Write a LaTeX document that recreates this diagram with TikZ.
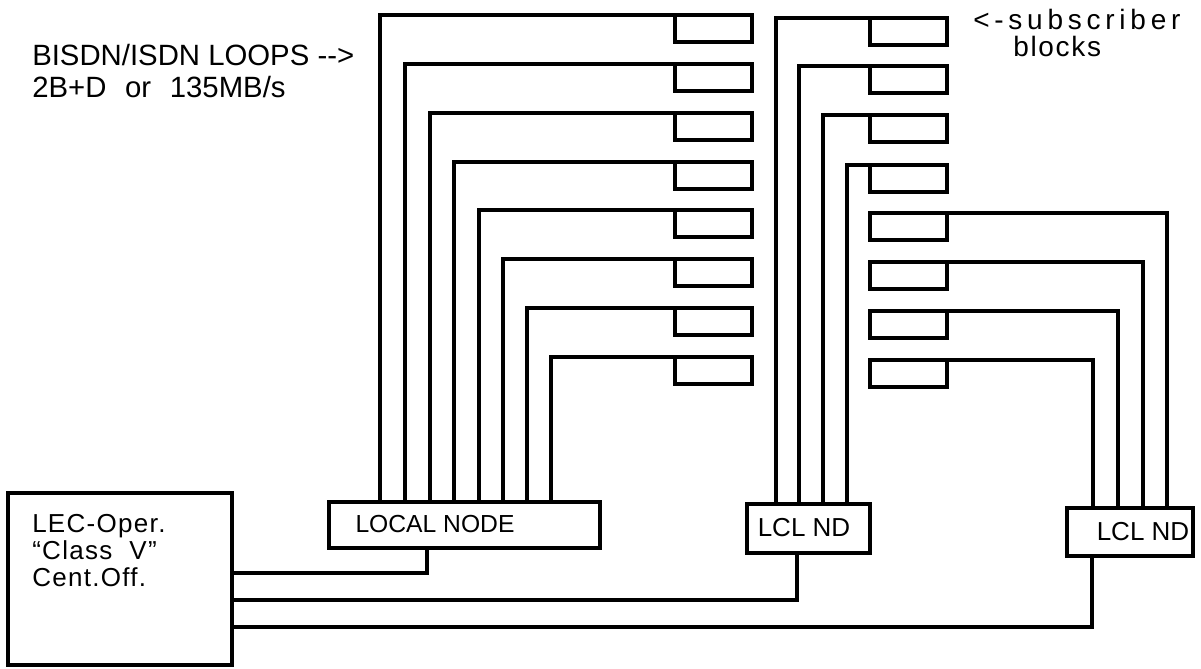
\documentclass[tikz,border=0pt]{standalone}
\usepackage{fontspec}
\setmainfont{Liberation Sans}
\begin{document}
\begin{tikzpicture}[x=0.75pt,y=-0.75pt,
  wire/.style={line width=2.5pt},
  subblock/.style={draw,line width=2.5pt,minimum width=57.75pt,minimum height=20.25pt,inner sep=0pt,outer sep=0pt,anchor=north west},
  nodebox/.style={draw,line width=2.5pt,inner sep=0pt,outer sep=0pt},
  lbl/.style={anchor=base west,inner sep=0pt},
  lectext/.style={lbl,font=\fontsize{19.5}{19.5}\selectfont\addfontfeature{LetterSpace=5}},
  boxtext/.style={inner sep=0pt}]
\useasboundingbox (0,0) rectangle (1201,668);
\fill[white] (0,0) rectangle (1201,668);

% subscriber blocks
\foreach \i/\y in {1/15,2/64,3/113,4/162,5/210,6/259,7/308,8/357}
  \node[subblock] (lb\i) at (675,\y) {};
\foreach \i/\y in {1/18,2/66,3/115,4/165,5/213,6/262,7/311,8/360}
  \node[subblock] (rb\i) at (870,\y) {};

% node boxes
\node[nodebox,minimum width=203.25pt,minimum height=34.5pt] (ln) at (464.5,525) {};
\node[boxtext,font=\fontsize{18.5}{18.5}\selectfont] (lntext) at (435,524) {LOCAL NODE};
\node[nodebox,minimum width=92.25pt,minimum height=36.75pt] (mn) at (808.5,528.5) {};
\node[boxtext,font=\fontsize{19.5}{19.5}\selectfont] (mntext) at (804,528) {LCL ND};
\node[nodebox,minimum width=94.5pt,minimum height=36pt] (rn) at (1130,532) {};
\node[boxtext,font=\fontsize{19.5}{19.5}\selectfont] (rntext) at (1143,532) {LCL ND};
\node[nodebox,minimum width=168pt,minimum height=129pt] (lec) at (120,579) {};

% loops
\foreach \i/\x in {1/380,2/405,3/430,4/454,5/479,6/503,7/527,8/551}
  \draw[wire] (\x,0 |- ln.north) |- (lb\i.north west);
\foreach \i/\x in {1/776,2/799,3/823,4/847}
  \draw[wire] (\x,0 |- mn.north) |- (rb\i.north west);
\foreach \i/\x in {5/1167,6/1143,7/1118,8/1093}
  \draw[wire] (rb\i.north west) -| (\x,0 |- rn.north);

% trunks to central office
\draw[wire] (427,0 |- ln.south) |- (lec.east |- 0,573);
\draw[wire] (797,0 |- mn.south) |- (lec.east |- 0,600);
\draw[wire] (1092,0 |- rn.south) |- (lec.east |- 0,627);

% texts
\node[lbl,font=\fontsize{22}{22}\selectfont] (t1) at (32,65) {BISDN/ISDN LOOPS -{}->};
\node[lbl,font=\fontsize{22}{22}\selectfont] (t2) at (32,97) {2B+D\hspace{14pt}or\hspace{14pt}135MB/s};
\node[lbl,font=\fontsize{21}{21}\selectfont\addfontfeature{LetterSpace=17}] (t3) at (973,29) {<-subscriber};
\node[lbl,font=\fontsize{21}{21}\selectfont\addfontfeature{LetterSpace=6}] (t4) at (1013,56) {blocks};
\node[lectext] (c1) at (32,532) {LEC-Oper.};
\node[lectext] (c2) at (32,559) {“Class\ \ V”};
\node[lectext] (c3) at (32,586) {Cent.Off.};
\end{tikzpicture}
\end{document}
